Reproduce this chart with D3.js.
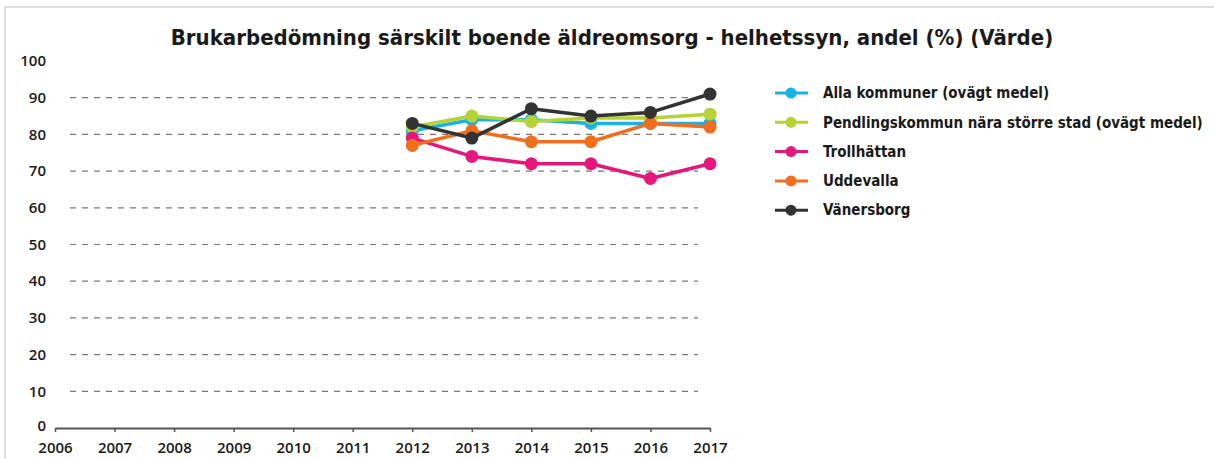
<!DOCTYPE html>
<html>
<head>
<meta charset="utf-8">
<script src="https://cdn.jsdelivr.net/npm/d3@7"></script>
<style>
  html, body { margin: 0; padding: 0; background: #fff; }
  svg { display: block; }
</style>
</head>
<body>
<svg id="chart" width="1214" height="459"></svg>
<script>
// Years on the x axis and the measured share (%) per municipality
const years = [2006, 2007, 2008, 2009, 2010, 2011, 2012, 2013, 2014, 2015, 2016, 2017];
const dataYears = [2012, 2013, 2014, 2015, 2016, 2017];
const yTicks = [0, 10, 20, 30, 40, 50, 60, 70, 80, 90, 100];

const seriesNames = [
  "Alla kommuner (ovägt medel)",
  "Pendlingskommun nära större stad (ovägt medel)",
  "Trollhättan",
  "Uddevalla",
  "Vänersborg"
];
const seriesColors = ["#1ab1e6", "#b5d334", "#e5177b", "#f26e1d", "#333333"];

const allaKommuner = [81, 84, 84, 83, 83, 83];
const pendlingskommun = [82, 85, 83.5, 84.5, 84.5, 85.5];
const trollhattan = [79, 74, 72, 72, 68, 72];
const uddevalla = [77, 81, 78, 78, 83, 82];
const vanersborg = [83, 79, 87, 85, 86, 91];

const seriesValues = [allaKommuner, pendlingskommun, trollhattan, uddevalla, vanersborg];

const svg = d3.select("#chart");

// light frame along the top and left edge
svg.append("line").attr("x1", 5).attr("x2", 1214).attr("y1", 7).attr("y2", 7)
  .attr("stroke", "#dedede").attr("stroke-width", 2);
svg.append("line").attr("x1", 5).attr("x2", 5).attr("y1", 7).attr("y2", 459)
  .attr("stroke", "#dedede").attr("stroke-width", 2);

svg.append("text")
  .attr("x", 612).attr("y", 45)
  .attr("text-anchor", "middle")
  .attr("font-family", "DejaVu Sans Condensed")
  .attr("font-weight", "bold")
  .attr("font-size", 22)
  .attr("fill", "#1a1a1a")
  .text("Brukarbedömning särskilt boende äldreomsorg - helhetssyn, andel (%) (Värde)");

const x = d3.scaleLinear().domain([2006, 2017]).range([55, 710]);
const y = d3.scaleLinear().domain([0, 100]).range([428, 61]);

const tickFont = sel => sel
  .attr("font-family", "Open Sans")
  .attr("font-weight", 600)
  .attr("font-size", 15)
  .attr("fill", "#1a1a1a");

// dashed gridlines
svg.append("g")
  .selectAll("line")
  .data(yTicks.filter(t => t > 0 && t < 100))
  .join("line")
  .attr("x1", 70).attr("x2", 698)
  .attr("y1", d => y(d)).attr("y2", d => y(d))
  .attr("stroke", "#7a7a7a")
  .attr("stroke-width", 1.2)
  .attr("stroke-dasharray", "6,6");

// y tick labels
svg.append("g")
  .selectAll("text")
  .data(yTicks)
  .join("text")
  .attr("x", 46)
  .attr("y", d => y(d) - (d === 0 ? 2 : 0))
  .attr("dy", "0.35em")
  .attr("text-anchor", "end")
  .call(tickFont)
  .text(d => d);

// x axis
const xAxis = d3.axisBottom(x)
  .tickValues(years)
  .tickFormat(d3.format("d"))
  .tickSizeInner(4)
  .tickSizeOuter(0)
  .tickPadding(10);

const gx = svg.append("g")
  .attr("transform", `translate(0,${y(0)})`)
  .call(xAxis);
gx.select(".domain").attr("stroke", "#555").attr("stroke-width", 2);
gx.selectAll(".tick line").attr("stroke", "#555").attr("stroke-width", 1.5);
gx.selectAll(".tick text").call(tickFont);

// series lines and markers
const line = d3.line()
  .x((d, i) => x(dataYears[i]))
  .y(d => y(d));

seriesValues.forEach((vals, si) => {
  const g = svg.append("g");
  g.append("path")
    .datum(vals)
    .attr("fill", "none")
    .attr("stroke", seriesColors[si])
    .attr("stroke-width", 3.5)
    .attr("stroke-linejoin", "round")
    .attr("d", line);
  g.selectAll("circle")
    .data(vals)
    .join("circle")
    .attr("cx", (d, i) => x(dataYears[i]))
    .attr("cy", d => y(d))
    .attr("r", 6.5)
    .attr("fill", seriesColors[si]);
});

// legend
const legend = svg.append("g");
seriesNames.forEach((name, i) => {
  const ly = 93 + i * 29.3;
  legend.append("line")
    .attr("x1", 775).attr("x2", 808)
    .attr("y1", ly).attr("y2", ly)
    .attr("stroke", seriesColors[i]).attr("stroke-width", 3);
  legend.append("circle")
    .attr("cx", 791).attr("cy", ly).attr("r", 5.5)
    .attr("fill", seriesColors[i]);
  legend.append("text")
    .attr("x", 823).attr("y", ly)
    .attr("dy", "0.35em")
    .attr("font-family", "DejaVu Sans Condensed")
    .attr("font-weight", "bold")
    .attr("font-size", 15)
    .attr("fill", "#1a1a1a")
    .text(name);
});
</script>
</body>
</html>
